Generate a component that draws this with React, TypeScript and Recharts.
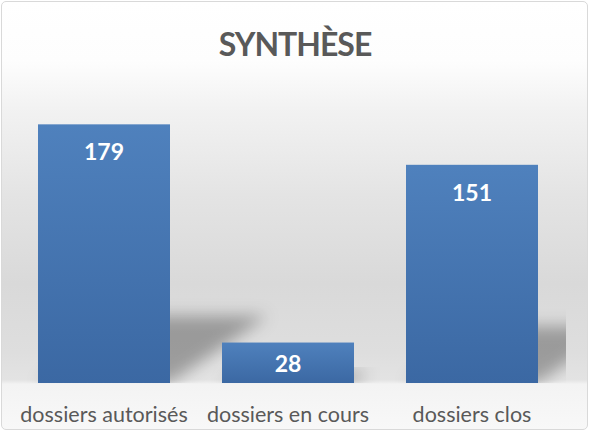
import React from "react";
import { BarChart, Bar, XAxis, YAxis, LabelList } from "recharts";

const categories = ["dossiers autorisés", "dossiers en cours", "dossiers clos"];
const values = [179, 28, 151];
const titleText = "SYNTHÈSE";

const data = categories.map((name, i) => ({ name, value: values[i] }));

const W = 590;
const H = 432;
const FONT = "Lato, 'Open Sans', sans-serif";

const BarShape = (props: any) => {
  const { x, y, width, height } = props;
  const base = y + height;
  const hs = height * 0.26;
  const dx = hs * 1.45;
  const pts = `${x},${base} ${x + width},${base} ${x + width + dx},${base - hs} ${x + dx},${base - hs}`;
  return (
    <g>
      <g clipPath="url(#plotClip)">
        <polygon points={pts} fill="#000" fillOpacity={0.3} filter="url(#shadowBlur)" />
      </g>
      <rect x={x} y={y} width={width} height={height} fill="url(#barGrad)" />
    </g>
  );
};

const ValueLabel = (props: any) => {
  const { x, y, width, height, value } = props;
  const cy = Math.min(y + 27, y + height / 2);
  return (
    <text
      x={x + width / 2}
      y={cy}
      fill="#ffffff"
      fontFamily={FONT}
      fontWeight={700}
      fontSize={23}
      textAnchor="middle"
      dominantBaseline="central"
    >
      {value}
    </text>
  );
};

const CatTick = (props: any) => {
  const { x, y, payload } = props;
  return (
    <text
      x={x}
      y={y + 39}
      fill="#595959"
      fontFamily={FONT}
      fontSize={21.5}
      textAnchor="middle"
    >
      {payload.value}
    </text>
  );
};

export default function App() {
  return (
    <div style={{ position: "absolute", left: 0, top: 0, width: W, height: H, background: "#ffffff" }}>
      <div
        style={{
          position: "absolute",
          left: 1,
          top: 1,
          width: 587,
          height: 429,
          boxSizing: "border-box",
          border: "1.5px solid #d9d9d9",
          borderRadius: 5,
          background:
            "linear-gradient(to bottom, #ffffff 0%, #fdfdfd 14%, #f2f2f2 25%, #e4e4e4 45%, #d9d9d9 66%, #dedede 82%, #e3e3e3 88.5%, #f3f3f3 89.5%, #f8f8f8 100%)",
        }}
      />
      <div
        style={{
          position: "absolute",
          left: 0,
          top: 25,
          width: W,
          textAlign: "center",
          fontFamily: FONT,
          fontWeight: 700,
          fontSize: 32,
          letterSpacing: -1,
          lineHeight: "38px",
          color: "#595959",
        }}
      >
        {titleText}
      </div>
      <div style={{ position: "absolute", left: 0, top: 0 }}>
        <BarChart
          width={W}
          height={H}
          data={data}
          margin={{ top: 94, right: 26, bottom: 0, left: 12 }}
        >
          <defs>
            <linearGradient id="barGrad" x1="0" y1="0" x2="0" y2="1">
              <stop offset="0%" stopColor="#4f81bd" />
              <stop offset="100%" stopColor="#3b68a3" />
            </linearGradient>
            <filter id="shadowBlur" x="-50%" y="-50%" width="200%" height="200%">
              <feGaussianBlur stdDeviation="8" />
            </filter>
            <clipPath id="plotClip">
              <rect x={12} y={94} width={554} height={289} />
            </clipPath>
          </defs>
          <XAxis
            dataKey="name"
            height={49}
            axisLine={false}
            tickLine={false}
            tickSize={0}
            tickMargin={0}
            interval={0}
            tick={<CatTick />}
          />
          <YAxis hide domain={[0, 200]} />
          <Bar dataKey="value" barSize={132} shape={<BarShape />} isAnimationActive={false}>
            <LabelList dataKey="value" content={<ValueLabel />} />
          </Bar>
        </BarChart>
      </div>
    </div>
  );
}
